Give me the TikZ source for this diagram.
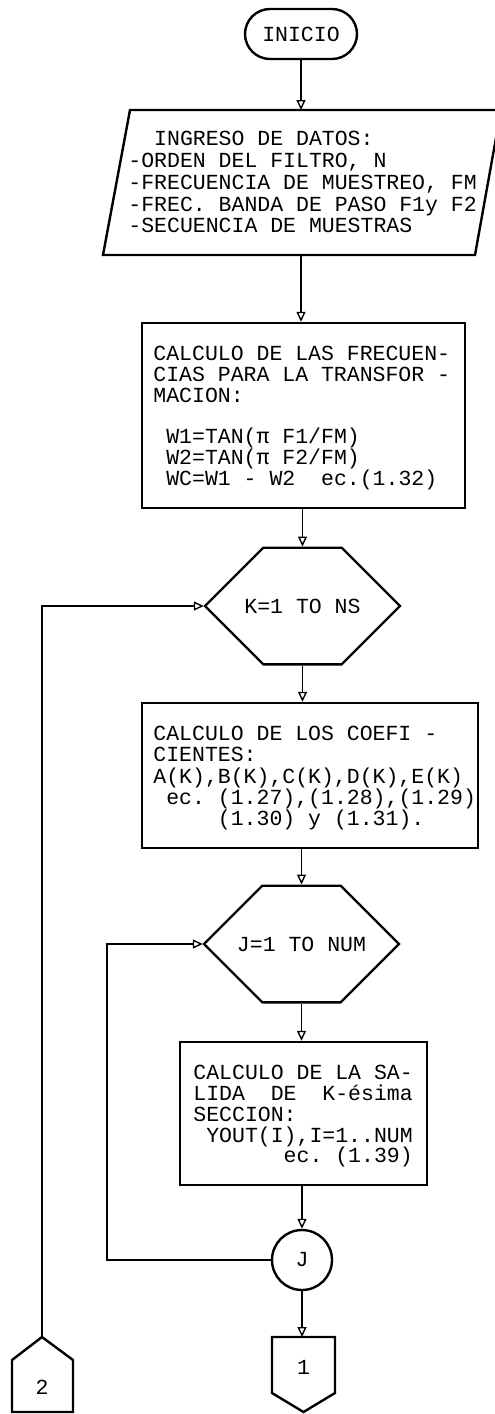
\documentclass[tikz,border=0pt]{standalone}
\usepackage{fontspec}
\setmonofont{Liberation Mono}
\usetikzlibrary{shapes.misc,arrows.meta,calc}
\begin{document}
\begin{tikzpicture}[x=0.5pt,y=-0.5pt,
  shp/.style={draw,line width=1.2pt},
  lbl/.style={font=\ttfamily\fontsize{10.75}{10.6}\selectfont, inner sep=0pt},
  txt/.style={lbl, align=left, anchor=north west},
  ln/.style={line width=0.7pt},
  arr/.style={ln,-{Triangle[open,length=5pt,width=4.5pt,line width=0.7pt]}},
  hex/.style={shp,lbl,chamfered rectangle,chamfered rectangle xsep=15pt,chamfered rectangle ysep=25.5pt,minimum width=97.5pt,minimum height=51pt}
]
\useasboundingbox (0,0) rectangle (494,1414);

% start
\node[shp,lbl,rounded rectangle,minimum width=56pt,minimum height=25pt] (ini) at (301,34) {INICIO};

% input parallelogram
\draw[shp] (130,110) -- (501,110) -- (475,255) -- (103,255) -- cycle;
\coordinate (pin) at (301,110);
\coordinate (pout) at (301,255);
\node[txt,font=\ttfamily\fontsize{10.75}{10.9}\selectfont] (data) at (128,131) {\phantom{00}INGRESO DE DATOS:\\-ORDEN DEL FILTRO, N\\-FRECUENCIA DE MUESTREO, FM\\-FREC. BANDA DE PASO F1y F2\\-SECUENCIA DE MUESTRAS};

% box 2
\node[shp,minimum width=161.5pt,minimum height=92.5pt] (b2) at (303.5,415.5) {};
\node[txt,font=\ttfamily\fontsize{10.75}{10.4}\selectfont] (t2) at (153,346) {CALCULO DE LAS FRECUEN-\\CIAS PARA LA TRANSFOR -\\MACION:\\[10.4pt]\phantom{0}W1=TAN(π F1/FM)\\\phantom{0}W2=TAN(π F2/FM)\\\phantom{0}WC=W1 - W2~~ec.(1.32)};

% loop K
\node[hex] (hexK) at (302.5,606) {K=1 TO NS};

% box 3
\node[shp,minimum width=168pt,minimum height=72.5pt] (b3) at (310,775.5) {};
\node[txt,font=\ttfamily\fontsize{10.75}{10.6}\selectfont] (t3) at (153,726) {CALCULO DE LOS COEFI -\\CIENTES:\\A(K),B(K),C(K),D(K),E(K)\\\phantom{0}ec. (1.27),(1.28),(1.29)\\\phantom{00000}(1.30) y (1.31).};

% loop J
\node[hex] (hexJ) at (301.5,944) {J=1 TO NUM};

% box 4
\node[shp,minimum width=123.5pt,minimum height=71.5pt] (b4) at (303.5,1113.5) {};
\node[txt,font=\ttfamily\fontsize{10.75}{10.4}\selectfont] (t4) at (193,1065) {CALCULO DE LA SA-\\LIDA~~DE~~K-ésima\\SECCION:\\\phantom{0}YOUT(I),I=1..NUM\\\phantom{0000000}ec. (1.39)};

% circle J
\node[shp,lbl,circle,minimum size=30pt] (cJ) at (302,1260) {J};

% off-page connector 1
\draw[shp] (272,1337) -- (335,1337) -- (335,1393) -- (303.5,1412) -- (272,1393) -- cycle;
\coordinate (c1top) at (302,1337);
\node[lbl] (c1) at (303.5,1367) {1};

% off-page connector 2
\draw[shp] (42,1337) -- (73,1360) -- (73,1412) -- (12,1412) -- (12,1360) -- cycle;
\coordinate (c2top) at (42,1337);
\node[lbl] (c2) at (42,1387) {2};

% connectors
\draw[arr] (ini.south) -- (pin);
\draw[arr] (pout) -- (pout |- b2.north);
\draw[arr] (hexK.north |- b2.south) -- (hexK.north);
\draw[arr] (hexK.south) -- (hexK.south |- b3.north);
\draw[arr] (hexJ.north |- b3.south) -- (hexJ.north);
\draw[arr] (hexJ.south) -- (hexJ.south |- b4.north);
\draw[arr] (cJ.north |- b4.south) -- (cJ.north);
\draw[arr] (cJ.south) -- (c1top);
\draw[arr] (c2top) |- (hexK.west);
\coordinate (jl) at (107,944);
\draw[arr] (cJ.west) -| (jl) -- (hexJ.west);
\end{tikzpicture}
\end{document}
